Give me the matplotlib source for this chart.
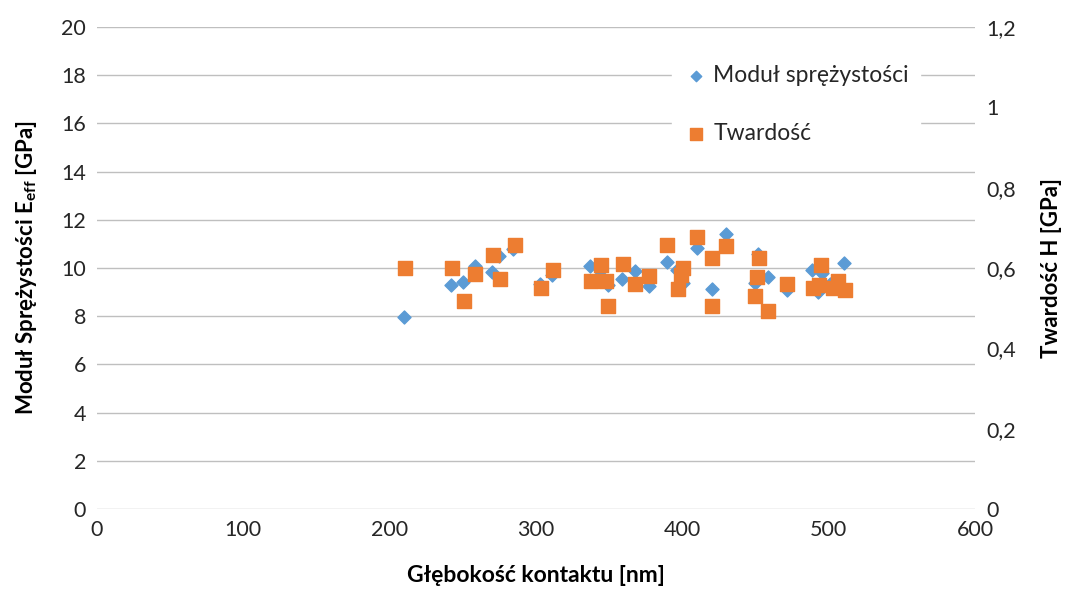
import matplotlib.pyplot as plt
from matplotlib.ticker import FuncFormatter

plt.rcParams['font.family'] = ['Lato', 'DejaVu Sans']

# Moduł sprężystości (depth nm, GPa)
depth_E = [210, 242, 250, 258, 270, 275, 284, 303, 311, 337, 344, 349, 359, 367.6, 377,
           389.5, 396, 400.5, 410, 420, 430, 449.7, 451.7, 458.5, 471.5, 488.6, 492.7,
           495.5, 501, 510.5]
modulus = [7.95, 9.3, 9.4, 10.1, 9.85, 10.5, 10.8, 9.35, 9.7, 10.08, 9.7, 9.3, 9.55, 9.88, 9.25,
           10.25, 9.92, 9.38, 10.85, 9.13, 11.4, 9.38, 10.6, 9.63, 9.1, 9.9, 9.0,
           9.8, 9.35, 10.2]

# Twardość (depth nm, GPa)
depth_H = [210.5, 242.6, 250.8, 258.3, 270.6, 275.4, 285.7, 303.4, 311.6, 337.5, 344.4, 347.8,
           349, 359.5, 367.6, 377, 389.5, 397, 399, 400.5, 410, 420, 420, 430, 449.7, 451,
           452.4, 458.5, 471.5, 489.3, 493.4, 494.8, 503, 506.4, 511]
hardness = [0.6, 0.6, 0.518, 0.585, 0.632, 0.572, 0.657, 0.55, 0.595, 0.568, 0.607, 0.568,
            0.505, 0.61, 0.56, 0.58, 0.657, 0.548, 0.583, 0.6, 0.677, 0.625, 0.505, 0.655, 0.53, 0.578,
            0.625, 0.493, 0.56, 0.55, 0.557, 0.607, 0.55, 0.568, 0.545]

fig = plt.figure(figsize=(10.73, 5.96), dpi=100)
ax1 = fig.add_axes([0.0904, 0.146, 0.8183, 0.8087])
ax2 = ax1.twinx()

p1 = ax1.scatter(depth_E, modulus, marker='D', s=44, color='#5B9BD5', zorder=3,
                 label='Moduł sprężystości')
p2 = ax2.scatter(depth_H, hardness, marker='s', s=100, color='#ED7D31', zorder=3,
                 label='Twardość')

ax1.set_xlim(0, 600)
ax1.set_ylim(0, 20)
ax2.set_ylim(0, 1.2)
ax1.set_xticks(range(0, 601, 100))
ax1.set_yticks(range(0, 21, 2))
ax2.set_yticks([0, 0.2, 0.4, 0.6, 0.8, 1.0, 1.2])
ax2.yaxis.set_major_formatter(FuncFormatter(lambda v, p: ('%g' % round(v, 1)).replace('.', ',')))

ax1.grid(True, axis='y', color='#bfbfbf', linewidth=1)
ax1.set_axisbelow(True)
for ax in (ax1, ax2):
    for s in ax.spines.values():
        s.set_visible(False)
    ax.tick_params(length=0, labelsize=15.5, colors='#262626', pad=8)

ax1.set_xlabel('Głębokość kontaktu [nm]', fontsize=16.5, fontweight='bold', labelpad=18)
ax1.set_ylabel('Moduł Sprężystości E$_{\\mathregular{eff}}$ [GPa]', fontsize=16,
               fontweight='bold', labelpad=16)
ax2.set_ylabel('Twardość H [GPa]', fontsize=16, fontweight='bold', labelpad=18)

leg = ax2.legend(handles=[p1, p2], loc='upper left', bbox_to_anchor=(0.655, 0.945),
                 fontsize=16.5, frameon=True, fancybox=False, edgecolor='white',
                 framealpha=1, labelspacing=1.6, handletextpad=0.2, borderpad=0.5,
                 markerscale=0.8, handlelength=1.1, borderaxespad=0)
for t in leg.get_texts():
    t.set_color('#262626')

plt.savefig('out.png', dpi=100)
